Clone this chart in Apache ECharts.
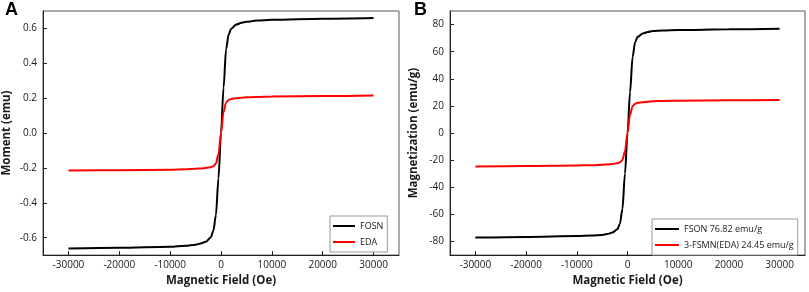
<!DOCTYPE html>
<html>
<head>
<meta charset="utf-8">
<script src="https://cdn.jsdelivr.net/npm/echarts@6/dist/echarts.min.js"></script>
<style>html,body{margin:0;padding:0;background:#fff;}#c{width:809px;height:292px;}</style>
</head>
<body>
<div id="c"></div>
<script>
// ---- data ----
var xTicks = [-30000, -20000, -10000, 0, 10000, 20000, 30000];
var yTicksA = [-0.6, -0.4, -0.2, 0, 0.2, 0.4, 0.6];
var yTicksB = [-80, -60, -40, -20, 0, 20, 40, 60, 80];

var field = [-30000, -20000, -10000, -7000, -5000, -4000, -3000, -2000, -1500, -1000, -500, 0, 500, 1000, 1500, 2000, 3000, 4000, 5000, 7000, 10000, 20000, 30000];

var fosnA = [-0.662, -0.658, -0.652, -0.646, -0.640, -0.634, -0.624, -0.598, -0.560, -0.470, -0.260, 0.0, 0.260, 0.480, 0.565, 0.598, 0.622, 0.632, 0.638, 0.645, 0.650, 0.656, 0.660];
var edaA = [-0.215, -0.213, -0.210, -0.207, -0.205, -0.203, -0.200, -0.196, -0.190, -0.175, -0.120, 0.0, 0.120, 0.175, 0.190, 0.196, 0.200, 0.203, 0.205, 0.207, 0.209, 0.212, 0.215];

var fsonB = [-77.1, -76.6, -76.0, -75.6, -75.1, -74.5, -73.4, -71.0, -67.0, -56.0, -30.0, 0.0, 30.0, 56.0, 67.0, 71.0, 73.4, 74.5, 75.2, 75.7, 76.0, 76.5, 76.82];
var edaB = [-24.6, -24.3, -23.9, -23.7, -23.4, -23.1, -22.8, -22.3, -21.6, -19.8, -13.5, 0.0, 13.5, 19.8, 21.6, 22.3, 22.8, 23.1, 23.4, 23.7, 23.9, 24.2, 24.45];

var namesA = ['FOSN', 'EDA'];
var namesB = ['FSON 76.82 emu/g', '3-FSMN(EDA) 24.45 emu/g'];

function pairs(xs, ys) { return xs.map(function (x, i) { return [x, ys[i]]; }); }

var FONT = 'Open Sans';
var TXT = '#1a1a1a';

function xAxisCfg(gi) {
  return {
    type: 'value', gridIndex: gi, min: -35000, max: 35000,
    name: 'Magnetic Field (Oe)', nameLocation: 'middle', nameGap: 17,
    nameTextStyle: { fontFamily: FONT, fontWeight: 'bold', fontSize: 11.5, color: TXT },
    axisLine: { show: true, onZero: false, lineStyle: { color: '#222', width: 1 } },
    axisTick: { show: true, inside: true, length: 4, customValues: xTicks, lineStyle: { color: '#222' } },
    axisLabel: { customValues: xTicks, fontFamily: FONT, fontSize: 10, color: TXT, margin: 5,
      formatter: function (v) { return String(Math.round(v)); } },
    splitLine: { show: false }
  };
}
function yAxisCfg(gi, name, min, max, ticks, dec) {
  return {
    type: 'value', gridIndex: gi, min: min, max: max,
    name: name, nameLocation: 'middle', nameGap: 30,
    nameTextStyle: { fontFamily: FONT, fontWeight: 'bold', fontSize: 11.5, color: TXT },
    axisLine: { show: true, onZero: false, lineStyle: { color: '#222', width: 1 } },
    axisTick: { show: true, inside: true, length: 4, customValues: ticks, lineStyle: { color: '#222' } },
    axisLabel: { customValues: ticks, fontFamily: FONT, fontSize: 10, color: TXT, margin: 6,
      formatter: function (v) { return dec ? v.toFixed(1) : String(Math.round(v)); } },
    splitLine: { show: false }
  };
}
function lineSeries(name, xi, data, color) {
  return {
    type: 'line', name: name, xAxisIndex: xi, yAxisIndex: xi, data: data,
    showSymbol: false, symbol: 'none', smooth: 0.3, smoothMonotone: 'x',
    lineStyle: { color: color, width: 2 }, itemStyle: { color: color },
    animation: false
  };
}
function legendCfg(names, left, top, w) {
  return {
    data: names.map(function (n) { return { name: n, icon: 'rect' }; }),
    orient: 'vertical', left: left, top: top, itemWidth: w, itemHeight: 2, itemGap: 4,
    padding: [4, 4, 4, 3], borderColor: '#999', borderWidth: 1, backgroundColor: '#fff',
    textStyle: { fontFamily: FONT, fontSize: 9, color: TXT, lineHeight: 12 }
  };
}

var chart = echarts.init(document.getElementById('c'), null, { renderer: 'canvas' });
chart.setOption({
  animation: false,
  title: [
    { text: 'A', left: 0, top: -4, textStyle: { fontFamily: 'Liberation Sans', fontWeight: 'bold', fontSize: 18, color: '#000' } },
    { text: 'B', left: 409, top: -4, textStyle: { fontFamily: 'Liberation Sans', fontWeight: 'bold', fontSize: 18, color: '#000' } }
  ],
  grid: [
    { left: 41, top: 11, width: 358, height: 249, show: true, borderColor: '#555', borderWidth: 1, containLabel: false },
    { left: 450, top: 11, width: 355, height: 249, show: true, borderColor: '#555', borderWidth: 1, containLabel: false }
  ],
  xAxis: [xAxisCfg(0), xAxisCfg(1)],
  yAxis: [
    yAxisCfg(0, 'Moment (emu)', -0.7, 0.7, yTicksA, true),
    yAxisCfg(1, 'Magnetization (emu/g)', -90, 90, yTicksB, false)
  ],
  legend: [legendCfg(namesA, 330, 216, 22), legendCfg(namesB, 652, 219, 24)],
  series: [
    lineSeries(namesA[0], 0, pairs(field, fosnA), '#000000'),
    lineSeries(namesA[1], 0, pairs(field, edaA), '#ff0000'),
    lineSeries(namesB[0], 1, pairs(field, fsonB), '#000000'),
    lineSeries(namesB[1], 1, pairs(field, edaB), '#ff0000')
  ]
});
</script>
</body>
</html>
